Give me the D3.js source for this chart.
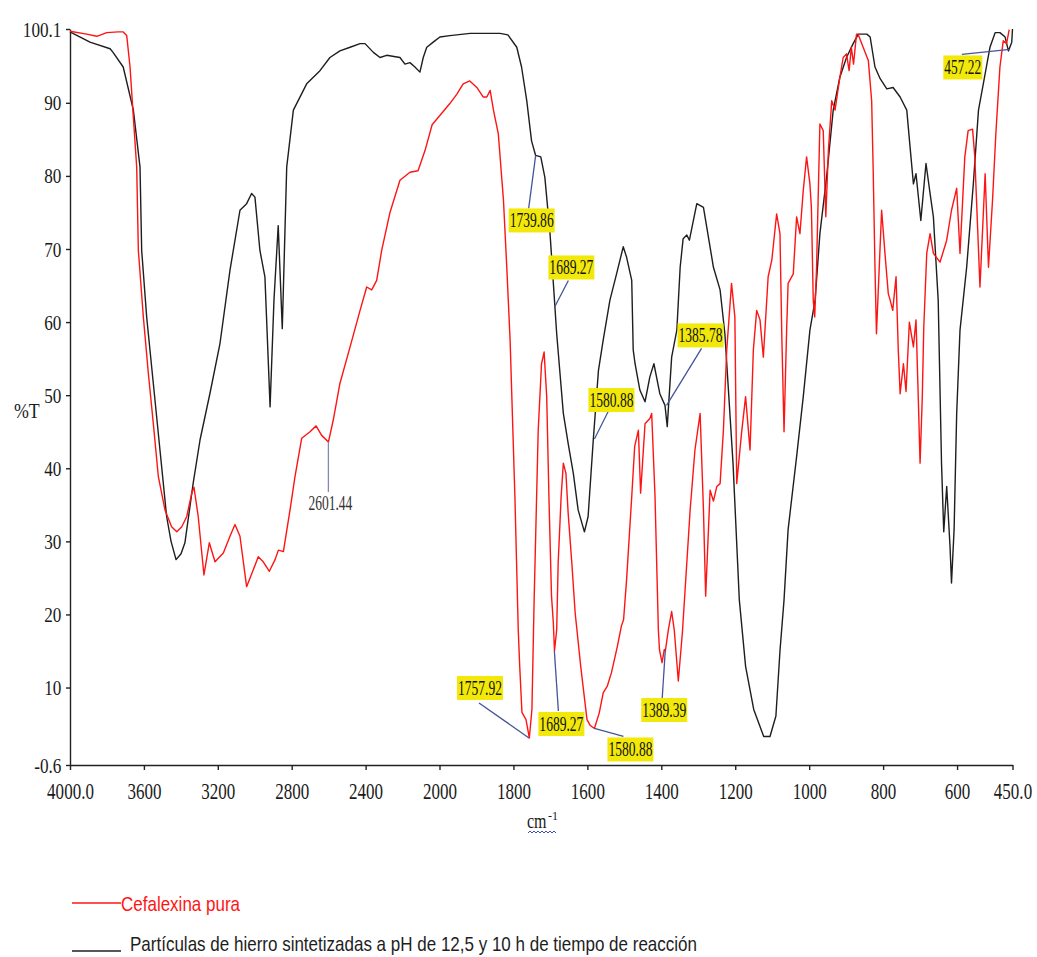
<!DOCTYPE html>
<html lang="es">
<head>
<meta charset="utf-8">
<title>Espectro IR: cefalexina y partículas de hierro</title>
<script src="https://cdn.jsdelivr.net/npm/d3@7"></script>
<style>
  body { margin: 0; background: #fff; }
  svg text { font-family: "Liberation Serif", "Times New Roman", serif; }
  svg text.legend { font-family: "Liberation Sans Narrow", "Liberation Sans", Arial, sans-serif; }
</style>
</head>
<body>
<script>
// wavenumber (cm-1) and %T
var redWn = [4000, 3910, 3855, 3801, 3739, 3712, 3693, 3675, 3657, 3639, 3630, 3603, 3576, 3549, 3522,
  3486, 3450, 3422, 3395, 3368, 3341, 3329, 3306, 3275, 3246, 3215, 3170, 3134, 3107, 3080, 3044, 3008,
  2981, 2954, 2921, 2890, 2872, 2845, 2809, 2782, 2746, 2701, 2668, 2638, 2601, 2575, 2539, 2484, 2430,
  2394, 2367, 2340, 2313, 2268, 2214, 2160, 2116, 2078, 2040, 1972, 1953, 1936, 1918, 1899, 1882, 1872,
  1863, 1854, 1841, 1827, 1818, 1809, 1796, 1787, 1783, 1777, 1766, 1757, 1750, 1744, 1733, 1724, 1717,
  1710, 1704, 1697, 1692, 1689, 1683, 1679, 1671, 1665, 1658, 1652, 1642, 1633, 1618, 1601, 1592, 1581,
  1568, 1557, 1546, 1535, 1519, 1508, 1502, 1494, 1480, 1472, 1462, 1456, 1444, 1431, 1426, 1417, 1408,
  1405, 1398, 1392, 1389, 1381, 1372, 1365, 1354, 1343, 1322, 1309, 1295, 1286, 1280, 1268, 1259, 1250,
  1241, 1232, 1223, 1210, 1201, 1196, 1183, 1172, 1160, 1151, 1142, 1133, 1124, 1111, 1101, 1088, 1079,
  1074, 1068, 1061, 1057, 1043, 1034, 1025, 1016, 1007, 998, 994, 989, 985, 980, 971, 962, 955, 948, 939,
  930, 917, 908, 899, 892, 886, 880, 872, 868, 854, 840, 831, 827, 822, 818, 804, 795, 786, 781, 774, 765,
  759, 754, 745, 738, 729, 718, 711, 705, 700, 694, 690, 682, 673, 664, 646, 628, 615, 601, 592, 579, 570,
  558, 552, 538, 524, 515, 504, 495, 484, 475, 466, 459, 450];
var redT = [99.8, 99.4, 99.1, 99.6, 99.7, 99.7, 99.2, 94.9, 88.0, 81.2, 69.8, 60.7, 53.0, 46.1, 38.9,
  34.3, 32.0, 31.3, 32.0, 33.4, 36.6, 37.4, 33.4, 25.4, 29.8, 27.2, 28.4, 30.7, 32.3, 30.7, 23.8, 26.1,
  27.9, 27.2, 25.9, 27.5, 28.8, 28.6, 34.3, 38.9, 44.1, 45.0, 45.8, 44.5, 43.6, 46.6, 51.6, 56.6, 61.6,
  64.8, 64.4, 65.7, 69.8, 75.0, 79.4, 80.5, 80.7, 83.5, 87.0, 89.9, 91.2, 92.6, 93.0, 92.1, 90.8, 90.8,
  91.7, 89.0, 85.8, 76.7, 67.5, 57.5, 36.1, 17.9, 12.9, 6.6, 5.6, 3.1, 7.0, 22.0, 45.2, 54.3, 55.9,
  49.8, 36.1, 22.5, 18.8, 15.0, 17.9, 27.0, 36.1, 40.7, 39.3, 33.9, 27.0, 20.2, 12.9, 5.6, 4.8, 4.4,
  6.5, 9.3, 10.2, 12.0, 15.6, 18.4, 19.3, 24.7, 36.1, 43.0, 45.2, 36.6, 46.1, 46.8, 47.5, 36.1, 17.9,
  15.2, 13.4, 15.2, 15.0, 17.9, 20.4, 17.9, 10.9, 17.5, 34.3, 42.5, 47.5, 34.3, 22.5, 37.0, 35.5, 37.5,
  37.9, 45.2, 56.2, 65.3, 60.7, 37.9, 44.8, 49.8, 42.5, 56.2, 61.6, 60.3, 55.2, 66.2, 68.5, 74.8, 72.1,
  58.0, 45.0, 58.9, 65.3, 66.6, 74.4, 72.1, 78.0, 82.6, 78.9, 75.7, 63.0, 60.7, 67.5, 87.1, 86.2, 74.4,
  83.5, 90.3, 89.0, 93.5, 96.2, 96.7, 94.4, 97.6, 95.3, 99.4, 99.4, 97.6, 95.8, 90.3, 81.2, 67.5, 58.4,
  75.3, 69.4, 63.9, 63.0, 61.6, 66.2, 56.2, 50.2, 54.3, 50.5, 60.0, 56.6, 60.3, 49.8, 40.7, 49.8, 59.3,
  69.4, 72.1, 69.4, 68.2, 71.2, 75.3, 78.3, 69.4, 82.6, 86.2, 86.4, 82.6, 64.8, 80.3, 67.5, 76.7, 85.8,
  94.9, 98.5, 98.1, 100.0];

var blackWn = [4000, 3892, 3783, 3767, 3712, 3657, 3621, 3612, 3585, 3549, 3513, 3477, 3453, 3426, 3399,
  3378, 3333, 3296, 3242, 3188, 3134, 3080, 3044, 3017, 2999, 2972, 2945, 2917, 2896, 2873, 2851, 2827,
  2791, 2719, 2647, 2593, 2539, 2484, 2430, 2403, 2358, 2322, 2286, 2214, 2187, 2160, 2133, 2106, 2088,
  2069, 2034, 1999, 1972, 1917, 1836, 1815, 1791, 1778, 1764, 1751, 1740, 1726, 1715, 1701, 1692, 1683,
  1665, 1652, 1638, 1625, 1608, 1598, 1584, 1570, 1557, 1539, 1521, 1503, 1494, 1480, 1476, 1471, 1458,
  1444, 1431, 1420, 1404, 1390, 1384, 1372, 1358, 1349, 1341, 1331, 1324, 1304, 1286, 1259, 1241, 1228,
  1206, 1189, 1172, 1150, 1123, 1106, 1090, 1079, 1068, 1057, 1034, 1016, 998, 984, 971, 953, 935, 917,
  899, 881, 867, 844, 835, 822, 808, 790, 773, 754, 736, 727, 718, 711, 698, 684, 673, 664, 651, 642, 636,
  628, 619, 615, 608, 601, 592, 574, 556, 542, 529, 511, 497, 484, 470, 461, 452, 450];
var blackT = [99.7, 98.3, 97.4, 96.9, 94.9, 89.0, 81.2, 69.8, 60.7, 51.6, 42.5, 33.4, 30.0, 27.5, 28.3,
  29.8, 38.0, 43.9, 50.3, 57.1, 67.1, 75.3, 76.2, 77.6, 77.1, 69.8, 66.2, 48.4, 63.0, 73.2, 59.1, 81.2,
  89.0, 92.6, 94.4, 96.2, 97.1, 97.6, 98.1, 98.1, 96.9, 96.2, 96.5, 96.2, 95.3, 95.5, 94.9, 94.2, 96.2,
  97.6, 98.3, 99.0, 99.2, 99.5, 99.5, 99.3, 97.6, 94.9, 90.3, 84.8, 82.8, 82.6, 79.8, 72.1, 65.3, 58.4,
  47.5, 43.4, 39.3, 34.3, 31.3, 33.4, 43.9, 53.4, 57.6, 63.0, 66.6, 70.3, 68.9, 65.7, 56.2, 54.3, 50.7,
  49.1, 52.5, 54.3, 50.2, 48.6, 45.7, 55.2, 58.9, 67.5, 71.4, 71.9, 71.2, 76.2, 75.7, 67.5, 64.4, 58.4,
  40.7, 22.0, 12.9, 7.0, 3.3, 3.3, 6.1, 15.0, 22.0, 31.6, 41.6, 49.8, 58.9, 63.0, 72.1, 79.8, 89.0, 93.5,
  96.2, 98.1, 99.4, 99.4, 99.0, 94.9, 93.3, 91.9, 92.1, 90.8, 89.0, 83.9, 78.9, 80.3, 73.9, 81.7, 77.6,
  74.4, 63.0, 40.7, 31.3, 37.5, 29.3, 24.3, 31.6, 47.5, 58.9, 67.5, 78.9, 89.0, 92.6, 97.6, 99.6, 99.6,
  99.0, 97.1, 98.3, 100.1];

var xTicks = [4000, 3600, 3200, 2800, 2400, 2000, 1800, 1600, 1400, 1200, 1000, 800, 600, 450];
var xTickLabels = ["4000.0", "3600", "3200", "2800", "2400", "2000", "1800", "1600", "1400", "1200",
  "1000", "800", "600", "450.0"];
var yTicks = [-0.6, 10, 20, 30, 40, 50, 60, 70, 80, 90, 100.1];
var yTickLabels = ["-0.6", "10", "20", "30", "40", "50", "60", "70", "80", "90", "100.1"];

// marked peaks: wavenumber, %T at the mark, series, text
var peakWn = [1739.86, 1689.27, 1580.88, 1385.78, 457.22, 2601.44, 1757.92, 1689.27, 1580.88, 1389.39];
var peakT = [82.8, 62.0, 44.0, 48.6, 97.3, 43.6, 3.1, 15.0, 4.4, 15.0];
var peakSeries = ["b", "b", "b", "b", "b", "r", "r", "r", "r", "r"];
var peakText = ["1739.86", "1689.27", "1580.88", "1385.78", "457.22", "2601.44", "1757.92", "1689.27",
  "1580.88", "1389.39"];

var seriesNames = ["Cefalexina pura",
  "Partículas de hierro sintetizadas a pH de 12,5 y 10 h de tiempo de reacción"];

var w = 1037, h = 957;

var x = d3.scaleLinear().domain([4000, 2000, 450]).range([70, 439.5, 1012.5]);
var y = d3.scaleLinear().domain([-0.6, 100.1]).range([765, 29]);

var svg = d3.select("body").append("svg")
  .attr("width", w)
  .attr("height", h);

//Axes
var xAxis = svg.append("g")
  .attr("transform", "translate(0," + y(-0.6) + ")")
  .call(d3.axisBottom(x).tickValues(xTicks)
    .tickFormat(function(d, i) { return xTickLabels[i]; })
    .tickSize(5).tickSizeOuter(0).tickPadding(13));
xAxis.selectAll("text").attr("font-size", "23px").attr("fill", "#1a1a1a")
  .attr("transform", "scale(0.74,1)");

var yAxis = svg.append("g")
  .attr("transform", "translate(" + x(4000) + ",0)")
  .call(d3.axisLeft(y).tickValues(yTicks)
    .tickFormat(function(d, i) { return yTickLabels[i]; })
    .tickSize(4).tickSizeOuter(0).tickPadding(7));
yAxis.selectAll("text").attr("font-size", "22px").attr("fill", "#1a1a1a")
  .attr("transform", "scale(0.78,1)");

svg.selectAll(".domain, .tick line").attr("stroke", "#222").attr("stroke-width", 1.4);

//Axis titles
svg.append("text")
  .attr("transform", "translate(14,418) scale(0.85,1)")
  .attr("font-size", "21px").attr("fill", "#1a1a1a")
  .text("%T");

svg.append("text")
  .attr("transform", "translate(527,828) scale(0.8,1)")
  .attr("font-size", "20px").attr("fill", "#1a1a1a")
  .text("cm");
svg.append("text")
  .attr("x", 548).attr("y", 820)
  .attr("font-size", "12px").attr("fill", "#1a1a1a")
  .text("-1");

// spell-check squiggle under the unit
var squiggle = d3.range(0, 15).map(function(i) { return [528 + i * 2, i % 2 ? 831 : 833]; });
svg.append("path")
  .attr("d", d3.line()(squiggle))
  .attr("fill", "none").attr("stroke", "#3a4fc0").attr("stroke-width", 1);

//Spectra
var line = d3.line()
  .x(function(d) { return x(d[0]); })
  .y(function(d) { return y(d[1]); });

svg.append("path")
  .datum(d3.zip(blackWn, blackT))
  .attr("d", line)
  .attr("fill", "none").attr("stroke", "#1e1e1e").attr("stroke-width", 1.4)
  .attr("stroke-linejoin", "round");

svg.append("path")
  .datum(d3.zip(redWn, redT))
  .attr("d", line)
  .attr("fill", "none").attr("stroke", "#ff1414").attr("stroke-width", 1.4)
  .attr("stroke-linejoin", "round");

//Peak labels: leader end and label centre, offset from the marked point
var peakLayout = [
  { lx: -7, ly: 53, bx: -4, by: 65 },
  { lx: 14, ly: -27, bx: 17, by: -40 },
  { lx: 14, ly: -28, bx: 17, by: -39 },
  { lx: 35, ly: -57, bx: 34, by: -70 },
  { lx: -48, ly: 5, bx: -47, by: 18 },
  { lx: 0, ly: 50, bx: 2, by: 61 },
  { lx: -50, ly: -35, bx: -49, by: -50 },
  { lx: 4, ly: 60, bx: 7, by: 73 },
  { lx: 29, ly: 8, bx: 36, by: 21 },
  { lx: -3, ly: 47, bx: -1, by: 59 }
];

peakWn.forEach(function(wn, i) {
  var px = x(wn), py = y(peakT[i]), o = peakLayout[i];
  var boxed = peakText[i] !== "2601.44";
  var g = svg.append("g");
  g.append("line")
    .attr("x1", px).attr("y1", py)
    .attr("x2", px + o.lx).attr("y2", py + o.ly)
    .attr("stroke", boxed ? "#44549a" : "#8489ad").attr("stroke-width", 1.3);
  var tw = peakText[i].length > 6 ? 44 : 37;
  if (boxed) {
    g.append("rect")
      .attr("x", px + o.bx - tw / 2 - 1).attr("y", py + o.by - 12)
      .attr("width", tw + 2).attr("height", 24)
      .attr("fill", "#f2e90a");
  }
  g.append("text")
    .attr("x", px + o.bx).attr("y", py + o.by + 7)
    .attr("text-anchor", "middle")
    .attr("font-size", "20px").attr("fill", boxed ? "#111" : "#333")
    .attr("textLength", tw).attr("lengthAdjust", "spacingAndGlyphs")
    .text(peakText[i]);
});

//Legend
svg.append("line")
  .attr("x1", 72).attr("x2", 121).attr("y1", 903).attr("y2", 903)
  .attr("stroke", "#ff1414").attr("stroke-width", 1.4);
svg.append("text")
  .attr("class", "legend")
  .attr("x", 121).attr("y", 911)
  .attr("font-size", "21px").attr("fill", "#ff1414")
  .attr("textLength", 119).attr("lengthAdjust", "spacingAndGlyphs")
  .text(seriesNames[0]);

svg.append("line")
  .attr("x1", 72).attr("x2", 121).attr("y1", 951).attr("y2", 951)
  .attr("stroke", "#1e1e1e").attr("stroke-width", 1.4);
svg.append("text")
  .attr("class", "legend")
  .attr("x", 130).attr("y", 951)
  .attr("font-size", "21px").attr("fill", "#1e1e1e")
  .attr("textLength", 567).attr("lengthAdjust", "spacingAndGlyphs")
  .text(seriesNames[1]);
</script>
</body>
</html>
